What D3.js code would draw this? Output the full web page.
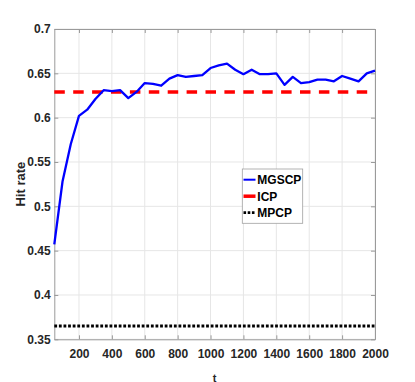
<!DOCTYPE html>
<html><head><meta charset="utf-8">
<script src="https://cdn.jsdelivr.net/npm/d3@7"></script>
<style>html,body{margin:0;padding:0;background:#fff;}svg{display:block;}</style>
</head><body>
<svg id="chart" width="415" height="382"></svg>
<script>
// ---- data ----
const tValues = [50,100,150,200,250,300,350,400,450,500,550,600,650,700,750,800,850,900,950,1000,
  1050,1100,1150,1200,1250,1300,1350,1400,1450,1500,1550,1600,1650,1700,1750,1800,1850,1900,1950,2000];
const mgscp = [0.457,0.528,0.570,0.602,0.609,0.621,0.631,0.630,0.631,0.622,0.629,0.639,0.638,0.636,0.644,0.648,0.646,0.647,0.648,0.656,
  0.659,0.661,0.654,0.649,0.654,0.649,0.649,0.650,0.637,0.646,0.639,0.640,0.643,0.643,0.641,0.647,0.644,0.641,0.650,0.653];
const icpValue = 0.629;
const mpcpValue = 0.365;
const seriesNames = ["MGSCP","ICP","MPCP"];
const xTicks = [200,400,600,800,1000,1200,1400,1600,1800,2000];
const xTickLabels = ["200","400","600","800","1000","1200","1400","1600","1800","2000"];
const yTicks = [0.35,0.4,0.45,0.5,0.55,0.6,0.65,0.7];
const yTickLabels = ["0.35","0.4","0.45","0.5","0.55","0.6","0.65","0.7"];

// ---- layout ----
const L = 54.3, R = 375, T = 29, B = 339.3;
const svg = d3.select("#chart");
const x = d3.scaleLinear().domain([50,2000]).range([L,R]);
const y = d3.scaleLinear().domain([0.35,0.7]).range([B,T]);
const font = "'Liberation Sans', Arial, Helvetica, sans-serif";

// grid
svg.append("g").selectAll("line").data(xTicks).join("line")
  .attr("x1",d=>x(d)).attr("x2",d=>x(d)).attr("y1",T).attr("y2",B)
  .attr("stroke","#e6e6e6").attr("stroke-width",1);
svg.append("g").selectAll("line").data(yTicks).join("line")
  .attr("x1",L).attr("x2",R).attr("y1",d=>y(d)).attr("y2",d=>y(d))
  .attr("stroke","#e6e6e6").attr("stroke-width",1);

// axes
const axColor = "#9a9a9a";
function styleAxis(g){
  g.select(".domain").attr("stroke",axColor);
  g.selectAll(".tick line").attr("stroke",axColor);
  g.selectAll(".tick text").attr("fill","#262626").attr("font-family",font)
    .attr("font-weight","bold").attr("font-size","12px");
}
const gx = svg.append("g").attr("transform",`translate(0,${B})`)
  .call(d3.axisBottom(x).tickValues(xTicks).tickSizeInner(-4).tickSizeOuter(0).tickPadding(10)
    .tickFormat((d,i)=>xTickLabels[i]));
styleAxis(gx);
const gxt = svg.append("g").attr("transform",`translate(0,${T})`)
  .call(d3.axisTop(x).tickValues(xTicks).tickSizeInner(-4).tickSizeOuter(0).tickFormat(""));
styleAxis(gxt);
const gy = svg.append("g").attr("transform",`translate(${L},0)`)
  .call(d3.axisLeft(y).tickValues(yTicks).tickSizeInner(-4).tickSizeOuter(0).tickPadding(3.6)
    .tickFormat((d,i)=>yTickLabels[i]));
styleAxis(gy);
const gyr = svg.append("g").attr("transform",`translate(${R},0)`)
  .call(d3.axisRight(y).tickValues(yTicks).tickSizeInner(-4).tickSizeOuter(0).tickFormat(""));
styleAxis(gyr);

// axis titles
svg.append("text").attr("x",(L+R)/2).attr("y",381.5).attr("text-anchor","middle")
  .attr("font-family",font).attr("font-weight","bold").attr("font-size","11px").attr("fill","#262626").text("t");
svg.append("text").attr("transform",`translate(25,${(T+B)/2}) rotate(-90)`).attr("text-anchor","middle")
  .attr("font-family",font).attr("font-weight","bold").attr("font-size","13px").attr("fill","#262626").text("Hit rate");

// series
const styles = {
  MGSCP:{color:"#0000ff",width:2.3,dash:null},
  ICP:{color:"#ff0000",width:3.5,dash:"10.5,8.4"},
  MPCP:{color:"#000000",width:2.8,dash:"2.8,1.8"}
};
svg.append("line").attr("x1",x(50)).attr("x2",x(2000)).attr("y1",y(mpcpValue)).attr("y2",y(mpcpValue))
  .attr("stroke",styles.MPCP.color).attr("stroke-width",styles.MPCP.width).attr("stroke-dasharray",styles.MPCP.dash);
svg.append("line").attr("x1",x(50)).attr("x2",x(2000)).attr("y1",y(icpValue)).attr("y2",y(icpValue))
  .attr("stroke",styles.ICP.color).attr("stroke-width",styles.ICP.width).attr("stroke-dasharray",styles.ICP.dash);
const line = d3.line().x((d,i)=>x(tValues[i])).y(d=>y(d));
svg.append("path").datum(mgscp).attr("d",line).attr("fill","none")
  .attr("stroke",styles.MGSCP.color).attr("stroke-width",styles.MGSCP.width).attr("stroke-linejoin","round");

// legend
const lg = svg.append("g");
lg.append("rect").attr("x",242.3).attr("y",169).attr("width",60.4).attr("height",54.3)
  .attr("fill","#fff").attr("stroke","#a0a0a0").attr("stroke-width",0.8);
seriesNames.forEach((name,i)=>{
  const yy = 179.7 + i*16.5;
  const s = styles[name];
  lg.append("line").attr("x1",243.5).attr("x2",255.5).attr("y1",yy).attr("y2",yy)
    .attr("stroke",s.color).attr("stroke-width",name==="MGSCP"?2:s.width)
    .attr("stroke-dasharray",name==="MPCP"?"2.6,1.6":null);
  lg.append("text").attr("x",257.3).attr("y",yy+4.3).attr("font-family",font)
    .attr("font-weight","bold").attr("font-size","12px").attr("fill","#000").text(name);
});
</script>
</body></html>
